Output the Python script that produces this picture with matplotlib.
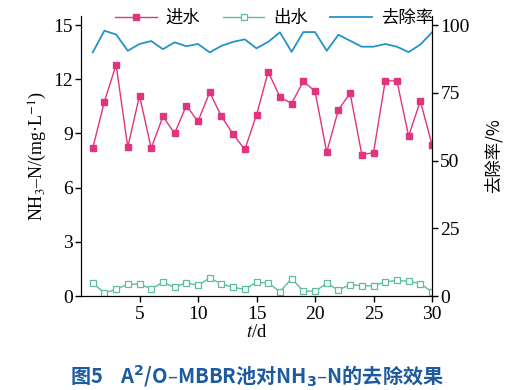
import numpy as np
import matplotlib
matplotlib.use('Agg')
import matplotlib.pyplot as plt

plt.rcParams['font.family'] = ['Liberation Serif', 'Noto Sans CJK SC']
plt.rcParams['mathtext.fontset'] = 'stix'

days = np.arange(1, 31)
influent = [8.18, 10.76, 12.8, 8.24, 11.09, 8.18, 9.94, 9.0, 10.54, 9.67,
            11.28, 9.94, 8.96, 8.11, 10.02, 12.41, 11.02, 10.65, 11.89, 11.33,
            7.96, 10.31, 11.22, 7.83, 7.93, 11.91, 11.91, 8.85, 10.8, 8.37]
effluent = [0.72, 0.17, 0.37, 0.65, 0.67, 0.39, 0.76, 0.48, 0.74, 0.59,
            1.0, 0.67, 0.48, 0.37, 0.76, 0.72, 0.24, 0.96, 0.28, 0.26,
            0.70, 0.33, 0.63, 0.57, 0.56, 0.78, 0.87, 0.81, 0.69, 0.22]
removal = [89.9, 97.9, 96.5, 90.5, 93.0, 94.1, 91.1, 93.6, 92.2, 93.0,
           89.9, 92.3, 93.8, 94.7, 91.4, 93.8, 97.3, 90.1, 97.4, 97.4,
           90.5, 96.4, 94.2, 92.0, 92.0, 93.0, 92.0, 90.0, 92.8, 97.3]

pink = '#e2337e'
green = '#5cbf9a'
blue = '#2593c8'
cjk = ['Noto Sans CJK SC', 'DejaVu Sans']

fig = plt.figure(figsize=(5.14, 3.9), dpi=100)
ax = fig.add_axes([0.1576, 0.241, 0.6829, 0.718])
ax2 = ax.twinx()

l1, = ax.plot(days, influent, color=pink, lw=1, marker='s', ms=4,
              mfc=pink, mec=pink, label='进水')
l2, = ax.plot(days, effluent, color=green, lw=1, marker='s', ms=5,
              mfc='white', mec=green, mew=0.9, label='出水')
l3, = ax2.plot(days, removal, color=blue, lw=1.3, label='去除率')

ax.set_xlim(0, 30)
ax.set_ylim(0, 15.5)
ax2.set_ylim(0, 15.5 / 15 * 100)
ax.set_xticks([5, 10, 15, 20, 25, 30])
ax.set_yticks([0, 3, 6, 9, 12, 15])
ax2.set_yticks([0, 25, 50, 75, 100])

for a in (ax, ax2):
    a.spines['top'].set_visible(False)
    a.tick_params(labelsize=14, length=4, width=1, direction='out', pad=2)
    for lab in a.get_xticklabels() + a.get_yticklabels():
        lab.set_family('Liberation Serif')
ax.tick_params(axis='x', pad=3)

ax.set_xlabel('$t$/d', fontsize=13.5, labelpad=1)
ax.set_ylabel('NH$_3$–N/(mg·L$^{-1}$)', fontsize=13, labelpad=3)
ax2.set_ylabel('去除率/%', fontsize=12.5, labelpad=10, family=cjk)

fig.legend(handles=[l1, l2, l3], loc='center', bbox_to_anchor=(274 / 514, 1 - 18 / 390),
           ncol=3, frameon=False, handlelength=2.4,
           columnspacing=1.3, handletextpad=0.5,
           prop={'family': cjk, 'size': 12.5})

fig.text(0.5, 1 - 375 / 390, '图5    A$^\\mathbf{2}$/O–MBBR池对NH$_\\mathbf{3}$–N的去除效果',
         ha='center', va='center', fontsize=14.5, fontweight='bold', color='#1e5aa0',
         family=cjk, math_fontfamily='dejavusans')

fig.savefig('out.png', dpi=100)
